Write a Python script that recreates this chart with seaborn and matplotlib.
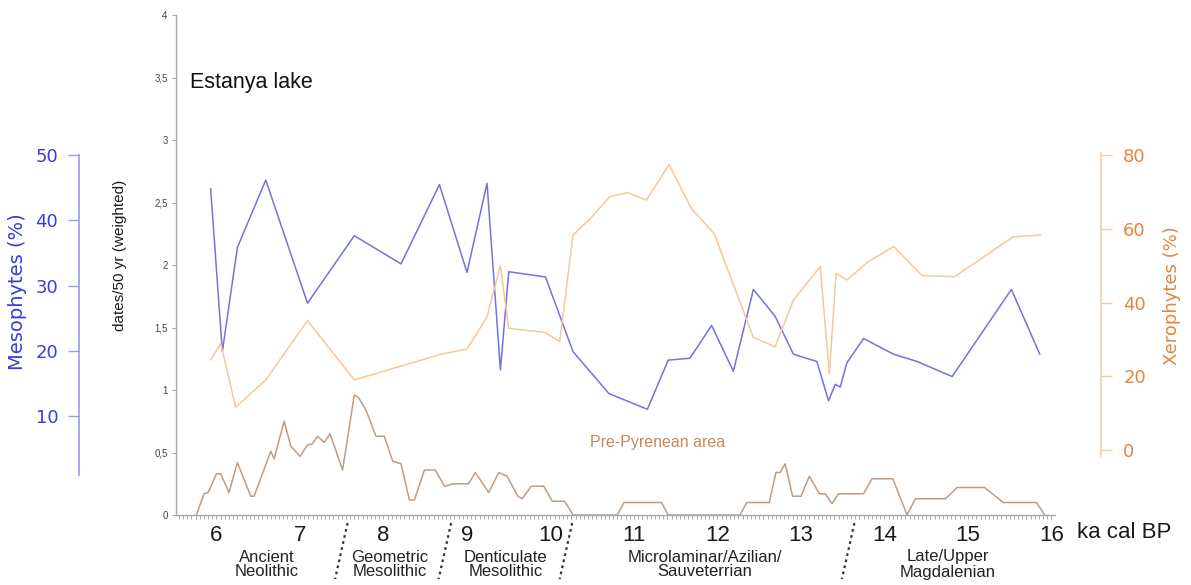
import matplotlib
matplotlib.use("Agg")
import matplotlib.pyplot as plt
from matplotlib.ticker import FixedLocator, MultipleLocator, FuncFormatter
import pandas as pd
import seaborn as sns

# ---------------------------------------------------------------- data
# Mesophyte pollen (%) against age (ka cal BP)
meso_age = [5.93, 6.07, 6.25, 6.59, 7.09, 7.65, 8.21, 8.67, 9.00, 9.24,
            9.40, 9.50, 9.94, 10.27, 10.70, 11.16, 11.41, 11.67, 11.93, 12.19,
            12.43, 12.69, 12.91, 13.19, 13.33, 13.41, 13.47, 13.55, 13.75, 14.11,
            14.39, 14.81, 15.52, 15.86]
meso_pct = [44.8, 19.9, 35.8, 46.1, 27.3, 37.6, 33.3, 45.4, 32.0, 45.6,
            17.1, 32.1, 31.3, 19.9, 13.5, 11.1, 18.6, 18.9, 23.9, 16.9,
            29.4, 25.3, 19.5, 18.4, 12.4, 14.9, 14.5, 18.2, 21.9, 19.5,
            18.4, 16.1, 29.4, 19.5]

# Xerophyte pollen (%) against age (ka cal BP)
xero_age = [5.93, 6.05, 6.23, 6.59, 7.09, 7.65, 8.68, 9.00, 9.24, 9.40,
            9.50, 9.93, 10.11, 10.27, 10.50, 10.71, 10.92, 11.15, 11.42, 11.69,
            11.96, 12.43, 12.69, 12.91, 13.23, 13.34, 13.42, 13.55, 13.79, 14.11,
            14.45, 14.84, 15.54, 15.87]
xero_pct = [24.4, 28.9, 11.6, 19.0, 35.1, 19.0, 25.9, 27.4, 36.1, 50.0,
            33.0, 31.9, 29.4, 58.3, 63.3, 68.7, 69.8, 67.8, 77.4, 65.4,
            58.7, 30.5, 28.0, 40.7, 49.7, 20.6, 47.9, 46.1, 50.8, 55.2,
            47.3, 47.0, 57.8, 58.3]

# Summed radiocarbon dates per 50 yr (weighted), Pre-Pyrenean area
date_age = [5.76, 5.85, 5.90, 6.00, 6.05, 6.15, 6.25, 6.41, 6.45, 6.65,
            6.69, 6.81, 6.89, 7.00, 7.09, 7.15, 7.21, 7.29, 7.36, 7.51,
            7.65, 7.70, 7.79, 7.91, 8.01, 8.11, 8.21, 8.31, 8.37, 8.49,
            8.62, 8.73, 8.84, 9.02, 9.10, 9.26, 9.38, 9.48, 9.61, 9.66,
            9.77, 9.92, 10.02, 10.17, 10.27, 10.80, 10.88, 11.33, 11.41, 12.27,
            12.35, 12.62, 12.70, 12.75, 12.81, 12.90, 13.00, 13.10, 13.22, 13.29,
            13.37, 13.45, 13.75, 13.85, 14.10, 14.27, 14.37, 14.73, 14.87, 15.20,
            15.42, 15.82, 15.92]
date_density = [0.00, 0.17, 0.18, 0.33, 0.33, 0.18, 0.42, 0.15, 0.15, 0.51,
                0.45, 0.75, 0.55, 0.47, 0.56, 0.57, 0.63, 0.58, 0.65, 0.36,
                0.96, 0.94, 0.84, 0.63, 0.63, 0.43, 0.41, 0.12, 0.12, 0.36,
                0.36, 0.23, 0.25, 0.25, 0.34, 0.18, 0.34, 0.31, 0.15, 0.13,
                0.23, 0.23, 0.11, 0.11, 0.00, 0.00, 0.10, 0.10, 0.00, 0.00,
                0.10, 0.10, 0.34, 0.34, 0.41, 0.15, 0.15, 0.31, 0.17, 0.17,
                0.09, 0.17, 0.17, 0.29, 0.29, 0.00, 0.13, 0.13, 0.22, 0.22,
                0.10, 0.10, 0.00]

age_ticks = [6, 7, 8, 9, 10, 11, 12, 13, 14, 15, 16]
date_ticks = [0, 0.5, 1, 1.5, 2, 2.5, 3, 3.5, 4]
meso_ticks = [10, 20, 30, 40, 50]
xero_ticks = [0, 20, 40, 60, 80]

# Cultural periods: label, centre age, boundary ages
period_labels = ["Ancient\nNeolithic", "Geometric\nMesolithic", "Denticulate\nMesolithic",
                 "Microlaminar/Azilian/\nSauveterrian", "Late/Upper\nMagdalenian"]
period_centres = [6.60, 8.08, 9.46, 11.85, 14.76]
period_bounds = [7.50, 8.74, 10.19, 13.57]

meso_df = pd.DataFrame({"age": meso_age, "pct": meso_pct})
xero_df = pd.DataFrame({"age": xero_age, "pct": xero_pct})
date_df = pd.DataFrame({"age": date_age, "density": date_density})

# ---------------------------------------------------------------- style
sns.set_style("white")
plt.rcParams["font.family"] = ["Liberation Sans", "DejaVu Sans"]

BLUE_LINE = "#7272e2"
BLUE_AXIS = "#9a9aee"
BLUE_TEXT = "#3c3cd8"
ORANGE_LINE = "#f6c79a"
ORANGE_AXIS = "#f3cba8"
ORANGE_TEXT = "#e5853c"
BROWN_LINE = "#c09c84"
GREY = "#a8a8a8"

W, H = 1191, 585
fig = plt.figure(figsize=(W / 100, H / 100), dpi=100)
fig.patch.set_facecolor("white")

ax = fig.add_axes([176 / W, 70 / H, 879 / W, 500 / H])
ax.set_xlim(5.515, 16.042)
ax.set_ylim(0, 4)
ax.patch.set_alpha(0)

# ---- main axis: dates per 50 yr
sns.lineplot(data=date_df, x="age", y="density", ax=ax, sort=False,
             estimator=None, color=BROWN_LINE, linewidth=1.1)
for s in ("top", "right"):
    ax.spines[s].set_visible(False)
for s in ("left", "bottom"):
    ax.spines[s].set_color(GREY)
    ax.spines[s].set_linewidth(1.0)
ax.yaxis.set_major_locator(FixedLocator(date_ticks))
ax.yaxis.set_major_formatter(FuncFormatter(lambda v, p: f"{v:g}".replace(".", ",")))
ax.tick_params(axis="y", which="major", left=True, length=3, width=0.8, color=GREY,
               labelsize=7, labelcolor="#444444", pad=3)
ax.xaxis.set_major_locator(FixedLocator(age_ticks))
ax.xaxis.set_minor_locator(MultipleLocator(0.05))
ax.set_xticklabels([str(t) for t in age_ticks])
ax.tick_params(axis="x", which="both", bottom=True, length=3, width=0.7, color=GREY,
               direction="out")
ax.tick_params(axis="x", which="major", labelsize=16, labelcolor="#1a1a1a", pad=4)
ax.set_xlabel("")
ax.set_ylabel("")
fig.text(120 / W, 1 - 255 / H, "dates/50 yr (weighted)", rotation=90,
         ha="center", va="center", fontsize=11, color="#1a1a1a")
fig.text(1077 / W, 1 - 532 / H, "ka cal BP", ha="left", va="center",
         fontsize=16, color="#1a1a1a")

# ---- Mesophytes axis (left, offset)
ax_m = ax.twinx()
sns.lineplot(data=meso_df, x="age", y="pct", ax=ax_m, sort=False,
             estimator=None, color=BLUE_LINE, linewidth=1.1)
ax_m.set_ylim(-5.04, 71.3)
for s in ("top", "right", "bottom"):
    ax_m.spines[s].set_visible(False)
ax_m.spines["left"].set_visible(True)
ax_m.spines["left"].set_position(("axes", (79 - 176) / 879))
ax_m.spines["left"].set_bounds(1, 50)
ax_m.spines["left"].set_color(BLUE_AXIS)
ax_m.spines["left"].set_linewidth(1.2)
ax_m.yaxis.set_ticks_position("left")
ax_m.yaxis.set_label_position("left")
ax_m.yaxis.set_major_locator(FixedLocator(meso_ticks))
ax_m.tick_params(axis="y", length=8, width=1.0, color=BLUE_AXIS, pad=7,
                 labelsize=13, labelcolor=BLUE_TEXT)
for lab in ax_m.get_yticklabels():
    lab.set_family("DejaVu Sans")
ax_m.set_ylabel("")
ax_m.set_xlabel("")
fig.text(18 / W, 1 - 292 / H, "Mesophytes (%)", rotation=90, ha="center",
         va="center", fontsize=14, color=BLUE_TEXT, family="DejaVu Sans")

# ---- Xerophytes axis (right, offset)
ax_x = ax.twinx()
sns.lineplot(data=xero_df, x="age", y="pct", ax=ax_x, sort=False,
             estimator=None, color=ORANGE_LINE, linewidth=1.1)
ax_x.set_ylim(-17.63, 117.97)
for s in ("top", "left", "bottom"):
    ax_x.spines[s].set_visible(False)
ax_x.spines["right"].set_position(("axes", (1101 - 176) / 879))
ax_x.spines["right"].set_bounds(-1.5, 80.5)
ax_x.spines["right"].set_color(ORANGE_AXIS)
ax_x.spines["right"].set_linewidth(1.2)
ax_x.yaxis.set_major_locator(FixedLocator(xero_ticks))
ax_x.tick_params(axis="y", length=8, width=1.0, color=ORANGE_AXIS, pad=8,
                 labelsize=13, labelcolor=ORANGE_TEXT)
for lab in ax_x.get_yticklabels():
    lab.set_family("DejaVu Sans")
ax_x.set_ylabel("")
ax_x.set_xlabel("")
fig.text(1172 / W, 1 - 296 / H, "Xerophytes (%)", rotation=90, ha="center",
         va="center", fontsize=13, color=ORANGE_TEXT, family="DejaVu Sans")

ax_m.set_xlim(ax.get_xlim())
ax_x.set_xlim(ax.get_xlim())

# ---- annotations
fig.text(190 / W, 1 - 83 / H, "Estanya lake", ha="left", va="center",
         fontsize=15.5, color="#111111")
fig.text(590 / W, 1 - 443 / H, "Pre-Pyrenean area", ha="left", va="center",
         fontsize=11.5, color="#c3895a")

# cultural periods below the age axis
xt = ax.get_xaxis_transform()
for label, c in zip(period_labels, period_centres):
    ax.text(c, -0.099, label, transform=xt, ha="center", va="center",
            fontsize=12, linespacing=1.0, color="#222222", clip_on=False)
for b in period_bounds:
    ax.plot([b + 0.07, b - 0.08], [-0.016, -0.128], transform=xt,
            linestyle=(0, (1.2, 1.6)), color="#333333", linewidth=1.6,
            clip_on=False)

fig.savefig("out.png", dpi=100, facecolor="white")
